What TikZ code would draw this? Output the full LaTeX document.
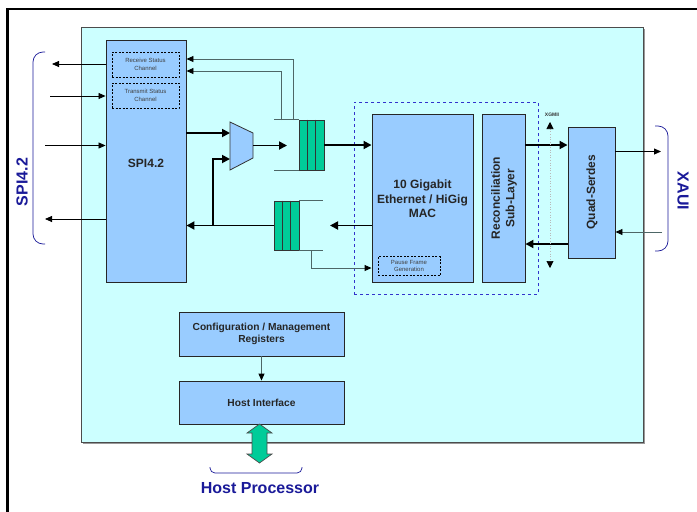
\documentclass[tikz,border=0pt]{standalone}
\usepackage{fontspec}
\setmainfont{Liberation Sans}
\usetikzlibrary{arrows.meta,shadows,calc}
\definecolor{bgcyan}{HTML}{CCFFFF}
\definecolor{boxblue}{HTML}{99CCFF}
\definecolor{fifogreen}{HTML}{00CC99}
\definecolor{labblue}{HTML}{1A1A99}
\definecolor{dashblue}{HTML}{3333CC}
\definecolor{glin}{HTML}{4D6666}
\begin{document}
\begin{tikzpicture}[x=1pt,y=-1pt,
 box/.style={draw=black!85,line width=0.9pt,fill=boxblue,inner sep=0pt,
   drop shadow={shadow xshift=1.3pt,shadow yshift=-1.3pt,fill=black,opacity=0.45}},
 sbox/.style={draw=black,line width=0.6pt,fill=boxblue,inner sep=0pt,dash pattern=on 2pt off 1.5pt},
 btxt/.style={font=\fontsize{12}{14.5}\selectfont\bfseries,text=black!85,align=center,inner sep=0pt},
 mtxt/.style={font=\fontsize{10.2}{12.5}\selectfont\bfseries,text=black!85,align=center,inner sep=0pt},
 stxt/.style={font=\fontsize{6}{7.5}\selectfont,text=black!75,align=center,inner sep=0pt},
 ltxt/.style={font=\fontsize{16}{19}\selectfont\bfseries,text=labblue,inner sep=0pt},
 data/.style={line width=1.8pt,-{Triangle[length=8pt,width=8pt]}},
 sig/.style={line width=0.8pt,-{Triangle[length=7pt,width=6pt]}},
 gsig/.style={line width=0.9pt,draw=glin,-{Triangle[length=7pt,width=6pt,color=black]}},
 gline/.style={line width=0.9pt,draw=glin},
 bracestyle/.style={draw=labblue,line width=0.7pt},
 fifo/.style={draw=black!80,line width=0.8pt,fill=fifogreen,inner sep=0pt},
]
\useasboundingbox (0,0) rectangle (697,512);
\fill[white] (0,0) rectangle (697,512);
% outer frame
\draw[line width=2.5pt] (7.5,512) -- (7.5,9) -- (697,9);
% chip
\node[draw=black!70,line width=0.9pt,fill=bgcyan,minimum width=562pt,minimum height=415pt,inner sep=0pt,
  drop shadow={shadow xshift=1.5pt,shadow yshift=-1.5pt,fill=gray,opacity=0.8}] (chip) at (362,234.5) {};
% MAC region
\node[draw=dashblue,dashed,line width=0.8pt,minimum width=184pt,minimum height=192pt,inner sep=0pt] (macreg) at (446,198) {};
% SPI4.2
\node[box,minimum width=80pt,minimum height=242pt] (spi) at (146,161) {};
\node[btxt] (spit) at (146,163) {SPI4.2};
\node[sbox,minimum width=67pt,minimum height=25pt] (rsc) at (145.5,64.5) {};
\node[stxt] (rsct) at (rsc) {Receive Status\\Channel};
\node[sbox,minimum width=67pt,minimum height=25pt] (tsc) at (145.5,95.5) {};
\node[stxt] (tsct) at (tsc) {Transmit Status\\Channel};
% MAC
\node[box,minimum width=101pt,minimum height=168pt] (mac) at (422.5,198) {};
\node[btxt] (mact) at (422.5,199) {10 Gigabit\\Ethernet / HiGig\\MAC};
\node[sbox,minimum width=62pt,minimum height=19pt] (pfg) at (409,266) {};
\node[stxt] (pfgt) at (pfg) {Pause Frame\\Generation};
% RSL
\node[box,minimum width=43pt,minimum height=168pt] (rsl) at (503.5,198) {};
\node[btxt,rotate=90] (rslt) at (504,198) {Reconciliation\\Sub-Layer};
% Quad
\node[box,minimum width=47pt,minimum height=131pt] (quad) at (591.5,192.5) {};
\node[btxt,rotate=90] (quadt) at (592,192) {Quad-Serdes};
% Config / Host
\node[box,minimum width=165pt,minimum height=44pt] (cfg) at (261.5,334) {};
\node[mtxt] (cfgt) at (cfg) {Configuration / Management\\Registers};
\node[box,minimum width=165pt,minimum height=43pt] (host) at (261.5,402.5) {};
\node[mtxt] (hostt) at (host) {Host Interface};
% mux
\draw[fill=boxblue,draw=black!80,line width=0.8pt] (230,122) coordinate (mA) -- (253,133) coordinate (mB)
  -- (253,158) coordinate (mC) -- (230,170) coordinate (mD) -- cycle;
\coordinate (mi1) at (230,133);
\coordinate (mi2) at (230,159);
\coordinate (mo) at (253,145.5);
% FIFOs
\node[fifo,minimum width=25pt,minimum height=50pt] (f1) at (311.5,145) {};
\draw[black!80,line width=0.8pt] ($(f1.north west)+(8.3,0)$) -- ($(f1.south west)+(8.3,0)$)
  ($(f1.north west)+(16.6,0)$) -- ($(f1.south west)+(16.6,0)$);
\draw[gline] (f1.north west) -- ++(-25,0);
\draw[gline] (f1.south west) -- ++(-25,0);
\node[fifo,minimum width=25pt,minimum height=49pt] (f2) at (286.5,225.5) {};
\draw[black!80,line width=0.8pt] ($(f2.north west)+(8.5,0)$) -- ($(f2.south west)+(8.5,0)$)
  ($(f2.north west)+(16.8,0)$) -- ($(f2.south west)+(16.8,0)$);
\draw[gline] (f2.north east) -- ++(24,0);
\draw[gline] (f2.south east) -- ++(24,0);
% data path
\coordinate (f1in) at (287,145.5);
\coordinate (f2in) at (330,225.5);
\coordinate (br) at (213,225.5);
\draw[data] (spi.east |- mi1) -- (mi1);
\draw[data] (mo) -- (f1in);
\draw[data] (f1.east) -- (mac.west |- f1.east);
\draw[data] (mac.west |- f2in) -- (f2in);
\draw[data] (f2.west) -- (spi.east |- f2.west);
\draw[data] (br) |- (mi2);
% status lines
\coordinate (st1) at (293,120);
\coordinate (st2) at (281,120);
\draw[gsig] (st1) |- (spi.east |- 0,59);
\draw[gsig] (st2) |- (spi.east |- 0,71);
% pause
\coordinate (p0) at (311.5,250);
\draw[gsig] (p0) |- (mac.west |- 0,268);
% external SPI
\coordinate (e1) at (52,64);
\coordinate (e2) at (50,96);
\coordinate (e3) at (45,145.5);
\coordinate (e4) at (45,219);
\draw[sig] (spi.west |- e1) -- (e1);
\draw[sig] (e2) -- (spi.west |- e2);
\draw[sig] (e3) -- (spi.west |- e3);
\draw[sig] (spi.west |- e4) -- (e4);
% RSL <-> Quad
\draw[data] (rsl.east |- 0,145) -- (quad.west |- 0,145);
\draw[data] (quad.west |- 0,244) -- (rsl.east |- 0,244);
% XAUI
\coordinate (x1) at (661,151.5);
\coordinate (x2) at (662,232);
\draw[sig] (quad.east |- x1) -- (x1);
\draw[gsig] (x2) -- (quad.east |- x2);
% XGMII
\coordinate (xgt) at (550,122);
\coordinate (xgb) at (550,268);
\node[font=\fontsize{5}{5}\selectfont\bfseries,text=black!80,inner sep=0pt] (xgl) at (552,115) {XGMII};
\draw[draw=gray!55,dotted,line width=0.6pt,{Triangle[length=7pt,width=7pt,color=black]}-{Triangle[length=7pt,width=7pt,color=black]}] (xgt) -- (xgb);
% cfg -> host
\draw[gsig] (cfg.south) -- (host.north);
% green double arrow
\draw[fill=fifogreen,draw=black!70,line width=0.7pt] (259.5,424) -- (272,433) -- (267,433) -- (267,454) -- (272,454)
  -- (259.5,463) -- (247,454) -- (252,454) -- (252,433) -- (247,433) -- cycle;
% braces
\draw[bracestyle,rounded corners=10pt] (45,52) -- (33,52) -- (33,244) -- (45,244);
\draw[bracestyle,rounded corners=10pt] (655,126) -- (668,126) -- (668,251) -- (655,251);
\draw[bracestyle,rounded corners=5pt] (210,467) -- (210,473) -- (302,473) -- (302,467);
% labels
\node[ltxt,rotate=90] (spil) at (22,182) {SPI4.2};
\node[ltxt,rotate=-90] (xaui) at (683,191) {XAUI};
\node[ltxt] (hostp) at (260,488) {Host Processor};
\end{tikzpicture}
\end{document}
